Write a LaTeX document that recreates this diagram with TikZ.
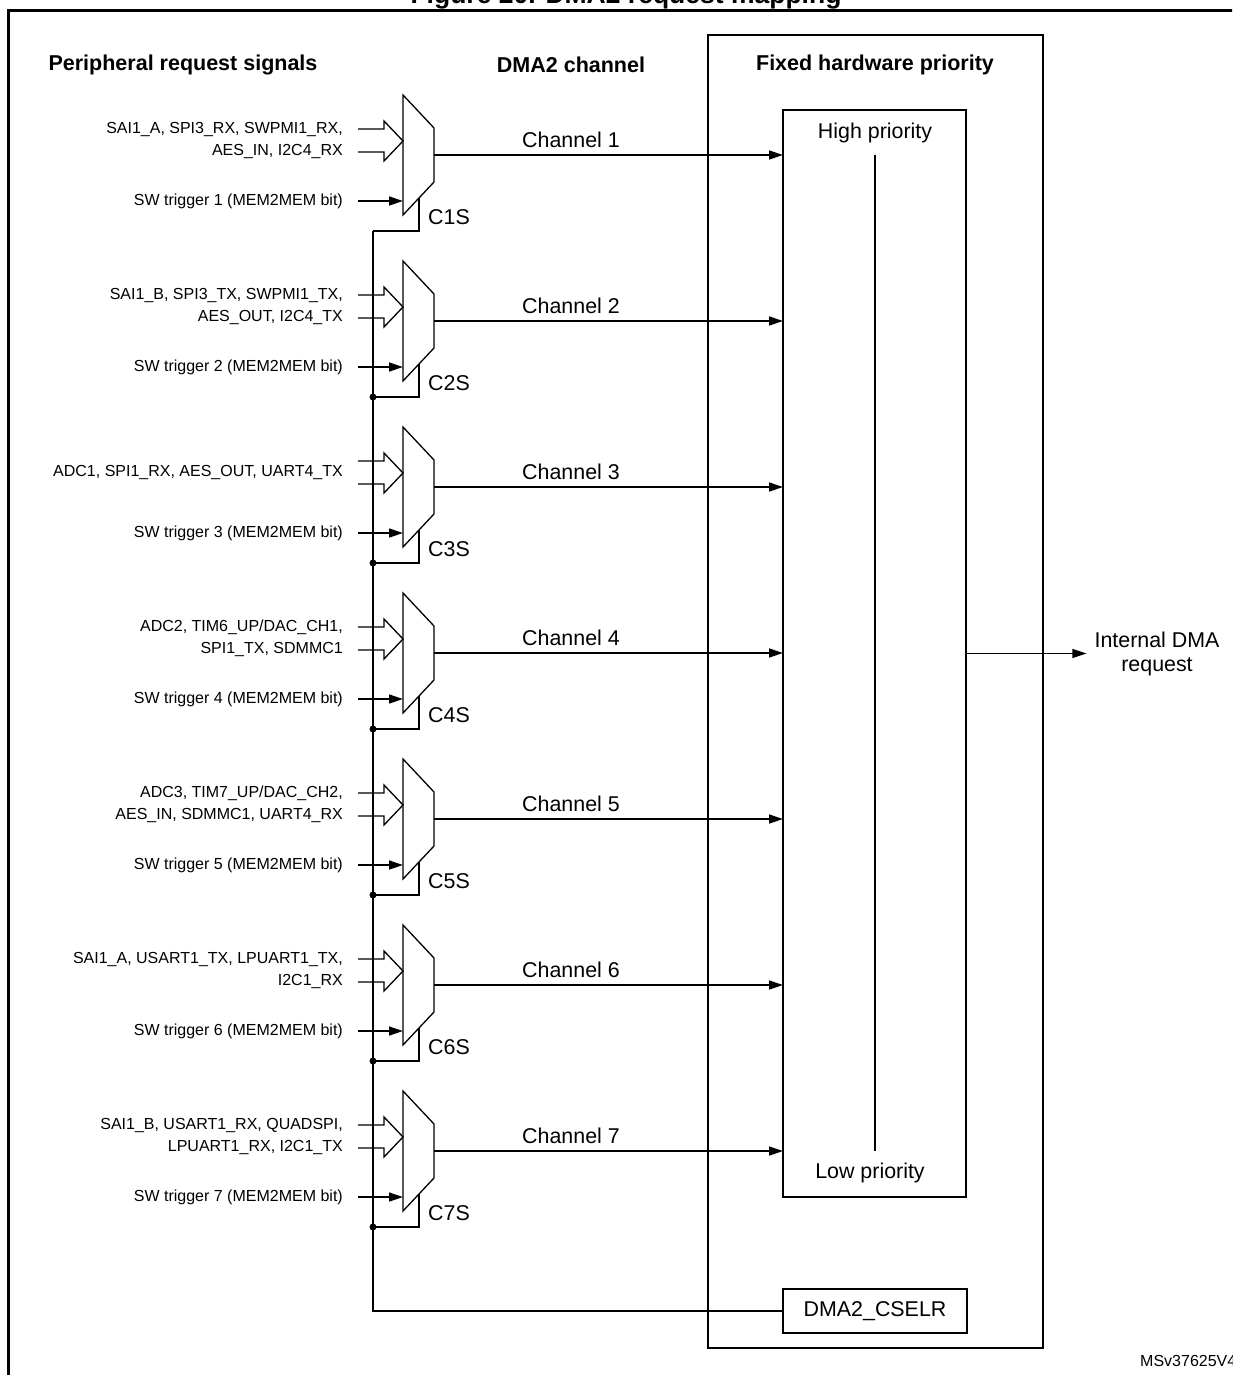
\documentclass[tikz,border=0pt]{standalone}
\usepackage{fontspec}
\setmainfont{Liberation Sans}
\usetikzlibrary{arrows.meta}
\begin{document}
\begin{tikzpicture}[x=1pt,y=-1pt,
  ln/.style={line width=1.3pt},
  arr/.style={ln,-{Triangle[length=14pt,width=9pt]}},
  sig/.style={font=\fontsize{16}{22}\selectfont, anchor=east, align=right, inner sep=0pt},
  chl/.style={font=\fontsize{21.4}{24}\selectfont, inner sep=0pt},
  hdr/.style={font=\fontsize{21.5}{25}\selectfont\bfseries, inner sep=0pt},
  boxn/.style={draw, ln, inner sep=0pt, outer sep=0pt, anchor=north west},
  dotn/.style={circle, fill, inner sep=0pt, minimum size=7pt}]
\useasboundingbox (0,0) rectangle (1232,1375);
\clip (0,0) rectangle (1232,1375);
\fill[white] (0,0) rectangle (1232,1375);
% title (cut by the page edge)
\node[font=\fontsize{26.5}{30}\selectfont\bfseries, anchor=base, inner sep=0pt] (title) at (626,3.5) {Figure 20. DMA2 request mapping};
% outer frame
\draw[line width=3pt] (8,1420) -- (8,11) -- (1280,11);
% headers
\node[hdr] (h1) at (183,65) {Peripheral request signals};
\node[hdr] (h2) at (571,65) {DMA2 channel};
\node[hdr] (h3) at (875,65) {Fixed hardware priority};
% boxes
\node[boxn, line width=2pt, minimum width=335pt, minimum height=1313pt] (fixed) at (708,35) {};
\node[boxn, minimum width=183pt, minimum height=1087pt] (prio) at (783,110) {};
\node[draw, ln, inner sep=0pt, outer sep=0pt, minimum width=184pt, minimum height=44pt, font=\fontsize{21.4}{24}\selectfont] (cselr) at (875,1311) {DMA2\_CSELR};
\node[chl] (hi) at (875,133) {High priority};
\node[chl] (lo) at (870,1173) {Low priority};
\coordinate (ptop) at (875,155);
\coordinate (pbot) at (875,1151);
\draw[ln] (ptop) -- (pbot);
% output
\node[chl, align=center] (idma) at (1157,654) {Internal DMA\\request};
\draw[arr] (prio.east) -- ([xshift=-8pt]idma.west |- prio.east);
\node[font=\fontsize{16}{18}\selectfont, anchor=base west, inner sep=0pt] (ms) at (1140,1366) {MSv37625V4};
% channels
\foreach \k in {1,...,7} {
  \pgfmathsetmacro\yc{155+166*(\k-1)}
  \coordinate (o\k) at (434,\yc);
  \coordinate (s\k) at (373,\yc+76);
  \draw[ln, fill=white] (403,\yc-60) -- (434,\yc-27) -- (434,\yc+27) -- (403,\yc+60) -- cycle;
  \draw[ln] (358,\yc-26) -- (384,\yc-26) -- (384,\yc-34) -- (403,\yc-14) -- (384,\yc+6) -- (384,\yc-3) -- (358,\yc-3);
  \draw[arr] (358,\yc+46) -- (403,\yc+46);
  \draw[arr] (o\k) -- (o\k -| prio.west);
  \node[chl] (ch\k) at (571,\yc-15) {Channel \k};
  \node[chl] (cs\k) at (449,\yc+62) {C\k S};
  \node[sig] (sw\k) at (343,\yc+46) {SW trigger \k{} (MEM2MEM bit)};
  \draw[ln] (419,\yc+43) -- (419,\yc+76) -- (s\k);
}
\foreach \k in {2,...,7} { \node[dotn] at (s\k) {}; }
% select bus
\draw[ln] (s1) -- (s1 |- cselr.west) -- (cselr.west);
% peripheral labels
\node[sig] (p1) at (343,140.5) {SAI1\_A, SPI3\_RX, SWPMI1\_RX,\\AES\_IN, I2C4\_RX};
\node[sig] (p2) at (343,306.5) {SAI1\_B, SPI3\_TX, SWPMI1\_TX,\\AES\_OUT, I2C4\_TX};
\node[sig] (p3) at (343,472) {ADC1, SPI1\_RX, AES\_OUT, UART4\_TX};
\node[sig] (p4) at (343,638.5) {ADC2, TIM6\_UP/DAC\_CH1,\\SPI1\_TX, SDMMC1};
\node[sig] (p5) at (343,804.5) {ADC3, TIM7\_UP/DAC\_CH2,\\AES\_IN, SDMMC1, UART4\_RX};
\node[sig] (p6) at (343,970.5) {SAI1\_A, USART1\_TX, LPUART1\_TX,\\I2C1\_RX};
\node[sig] (p7) at (343,1136.5) {SAI1\_B, USART1\_RX, QUADSPI,\\LPUART1\_RX, I2C1\_TX};
\end{tikzpicture}
\end{document}
